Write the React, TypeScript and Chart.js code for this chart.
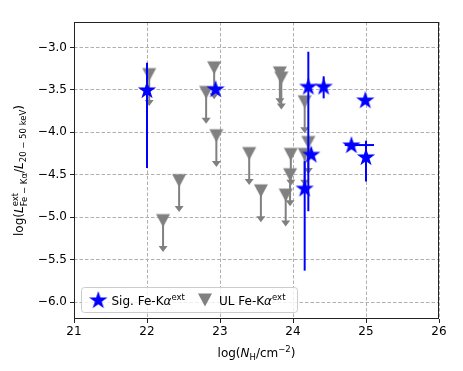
import React, { useEffect, useRef } from 'react';
import { Chart, registerables } from 'chart.js';

Chart.register(...registerables);

// ---- data ----
const sigX = [22.0, 22.94, 24.21, 24.42, 24.99, 24.8, 25.0, 24.25, 24.16];
const sigY = [-3.5, -3.49, -3.46, -3.46, -3.62, -4.15, -4.29, -4.26, -4.66];
const sigYHi = [-3.18, null, -3.05, -3.34, null, null, -4.1, null, -4.34];
const sigYLo = [-4.42, null, -4.93, -3.6, null, null, -4.58, null, -5.63];
const sigXLo = [null, null, null, null, null, 24.71, null, null, null];
const sigXHi = [null, null, null, null, null, 25.11, null, null, null];

const ulX = [22.03, 22.92, 22.81, 22.95, 23.4, 22.44, 22.22, 23.56, 23.97, 23.96, 23.9, 23.82, 23.84, 24.16, 24.21, 24.16];
const ulY = [-3.32, -3.24, -3.53, -4.04, -4.25, -4.57, -5.04, -4.69, -4.26, -4.5, -4.74, -3.3, -3.36, -3.64, -4.12, -4.26];

const xTicks = [21, 22, 23, 24, 25, 26];
const yTicks = [-6.0, -5.5, -5.0, -4.5, -4.0, -3.5, -3.0];

const legendLabels = ['Sig. Fe-K', 'UL Fe-K'];

// ---- styles ----
const BLUE = '#0000ff';
const GRAY = '#808080';
const FONT = '"DejaVu Sans"';
const UL_LEN = 0.37;

function makeStar() {
  const c = document.createElement('canvas');
  c.width = 22; c.height = 22;
  const g = c.getContext('2d')!;
  const cx = 11, cy = 11.5, R = 9.6, r = R * 0.381966;
  g.beginPath();
  for (let i = 0; i < 10; i++) {
    const a = -Math.PI / 2 + (i * Math.PI) / 5;
    const rr = i % 2 === 0 ? R : r;
    const px = cx + rr * Math.cos(a), py = cy + rr * Math.sin(a);
    if (i === 0) g.moveTo(px, py); else g.lineTo(px, py);
  }
  g.closePath();
  g.fillStyle = BLUE;
  g.fill();
  return c;
}

function makeTri() {
  const c = document.createElement('canvas');
  c.width = 16; c.height = 16;
  const g = c.getContext('2d')!;
  g.beginPath();
  g.moveTo(1, 1.5);
  g.lineTo(15, 1.5);
  g.lineTo(8, 14.5);
  g.closePath();
  g.fillStyle = GRAY;
  g.fill();
  return c;
}

type Part = { t: string; size: number; italic?: boolean; dy?: number; stack?: Part };

function fontOf(p: Part) {
  return `${p.italic ? 'italic ' : ''}${p.size}px ${FONT}`;
}

function partWidth(ctx: CanvasRenderingContext2D, p: Part) {
  ctx.font = fontOf(p);
  let w = ctx.measureText(p.t).width;
  if (p.stack) {
    ctx.font = fontOf(p.stack);
    w = Math.max(w, ctx.measureText(p.stack.t).width);
  }
  return w;
}

function drawRich(ctx: CanvasRenderingContext2D, parts: Part[], x: number, y: number, align: 'left' | 'center') {
  let total = 0;
  parts.forEach((p) => (total += partWidth(ctx, p)));
  let cx = align === 'center' ? x - total / 2 : x;
  ctx.textAlign = 'left';
  ctx.textBaseline = 'alphabetic';
  parts.forEach((p) => {
    const w = partWidth(ctx, p);
    ctx.font = fontOf(p);
    ctx.fillText(p.t, cx, y + (p.dy || 0));
    if (p.stack) {
      ctx.font = fontOf(p.stack);
      ctx.fillText(p.stack.t, cx, y + (p.stack.dy || 0));
    }
    cx += w;
  });
}

export default function App() {
  const ref = useRef<HTMLCanvasElement | null>(null);

  useEffect(() => {
    const canvas = ref.current!;
    const star = makeStar();
    const tri = makeTri();

    const plugin = {
      id: 'annot',
      beforeDatasetDraw(chart: any, args: any) {
        const { ctx } = chart;
        const x = chart.scales.x, y = chart.scales.y;
        if (args.index === 1) {
          ctx.save();
          ctx.strokeStyle = GRAY;
          ctx.fillStyle = GRAY;
          ctx.lineWidth = 2;
          ulX.forEach((vx, i) => {
            const px = x.getPixelForValue(vx);
            const py0 = y.getPixelForValue(ulY[i]);
            const tip = y.getPixelForValue(ulY[i] - UL_LEN);
            ctx.beginPath();
            ctx.moveTo(px, py0);
            ctx.lineTo(px, tip - 5);
            ctx.stroke();
            ctx.beginPath();
            ctx.moveTo(px - 4.5, tip - 6);
            ctx.lineTo(px + 4.5, tip - 6);
            ctx.lineTo(px, tip);
            ctx.closePath();
            ctx.fill();
          });
          ctx.restore();
        }
        if (args.index === 0) {
          ctx.save();
          ctx.strokeStyle = BLUE;
          ctx.lineWidth = 2;
          sigX.forEach((vx, i) => {
            const px = x.getPixelForValue(vx);
            if (sigYHi[i] != null && sigYLo[i] != null) {
              ctx.beginPath();
              ctx.moveTo(px, y.getPixelForValue(sigYHi[i] as number));
              ctx.lineTo(px, y.getPixelForValue(sigYLo[i] as number));
              ctx.stroke();
            }
            if (sigXLo[i] != null && sigXHi[i] != null) {
              const py = y.getPixelForValue(sigY[i]);
              ctx.beginPath();
              ctx.moveTo(x.getPixelForValue(sigXLo[i] as number), py);
              ctx.lineTo(x.getPixelForValue(sigXHi[i] as number), py);
              ctx.stroke();
            }
          });
          ctx.restore();
        }
      },
      afterDraw(chart: any) {
        const { ctx, chartArea: a } = chart;
        ctx.save();
        // frame
        ctx.strokeStyle = '#222';
        ctx.lineWidth = 1;
        ctx.strokeRect(Math.round(a.left) + 0.5, Math.round(a.top) + 0.5, Math.round(a.right - a.left) - 1, Math.round(a.bottom - a.top) - 1);

        // legend
        const lx = 81, ly = 287, lw = 216, lh = 25;
        ctx.beginPath();
        if ((ctx as any).roundRect) (ctx as any).roundRect(lx + 0.5, ly + 0.5, lw, lh, 3);
        else ctx.rect(lx + 0.5, ly + 0.5, lw, lh);
        ctx.fillStyle = 'rgba(255,255,255,0.8)';
        ctx.fill();
        ctx.strokeStyle = '#cccccc';
        ctx.stroke();
        const my = ly + lh / 2 + 0.5;
        ctx.drawImage(star, 98.3 - star.width / 2, my - star.height / 2);
        ctx.drawImage(tri, 205 - tri.width / 2, my - tri.height / 2);
        ctx.fillStyle = '#000';
        drawRich(ctx, [
          { t: legendLabels[0], size: 12 },
          { t: 'α', size: 12, italic: true },
          { t: 'ext', size: 8.5, dy: -5 },
        ], 111.5, my + 4.5, 'left');
        drawRich(ctx, [
          { t: legendLabels[1], size: 12 },
          { t: 'α', size: 12, italic: true },
          { t: 'ext', size: 8.5, dy: -5 },
        ], 219, my + 4.5, 'left');

        // x label
        const xc = (a.left + a.right) / 2;
        drawRich(ctx, [
          { t: 'log(', size: 12 },
          { t: 'N', size: 12, italic: true },
          { t: 'H', size: 8.5, dy: 2.5 },
          { t: '/cm', size: 12 },
          { t: '−2', size: 8.5, dy: -5 },
          { t: ')', size: 12 },
        ], xc, 357, 'center');

        // y label
        const yc = (a.top + a.bottom) / 2;
        ctx.translate(23, yc);
        ctx.rotate(-Math.PI / 2);
        drawRich(ctx, [
          { t: 'log(', size: 12 },
          { t: 'L', size: 12, italic: true },
          { t: 'ext', size: 8.5, dy: -5.5, stack: { t: 'Fe − Kα', size: 8.5, dy: 3.5 } },
          { t: '/', size: 12 },
          { t: 'L', size: 12, italic: true },
          { t: '20 − 50 keV', size: 8.5, dy: 3 },
          { t: ')', size: 12 },
        ], 0, 0, 'center');
        ctx.restore();
      },
    };

    const fmtY = (v: number) => (v < 0 ? '\u2212' : '') + Math.abs(v).toFixed(1);

    const chart = new Chart(canvas, {
      type: 'scatter',
      data: {
        datasets: [
          {
            label: 'Sig',
            data: sigX.map((vx, i) => ({ x: vx, y: sigY[i] })),
            pointStyle: star as any,
            pointRadius: 5,
            pointHoverRadius: 5,
          },
          {
            label: 'UL',
            data: ulX.map((vx, i) => ({ x: vx, y: ulY[i] })),
            pointStyle: tri as any,
            pointRadius: 5,
            pointHoverRadius: 5,
          },
        ],
      },
      options: {
        animation: false,
        responsive: false,
        devicePixelRatio: 1,
        layout: { padding: { left: 0, top: 22, right: 24, bottom: 0 } },
        plugins: { legend: { display: false }, tooltip: { enabled: false } },
        events: [],
        scales: {
          x: {
            type: 'linear',
            min: 21,
            max: 26,
            afterBuildTicks: (s: any) => { s.ticks = xTicks.map((v) => ({ value: v })); },
            afterFit: (s: any) => { s.height = 52; },
            ticks: {
              font: { family: FONT, size: 12 },
              color: '#000',
              padding: 2,
              maxRotation: 0,
              autoSkip: false,
              callback: (v: any) => String(v),
            },
            grid: {
              color: '#b0b0b0',
              lineWidth: 1,
              tickColor: '#222',
              tickLength: 4,
              tickWidth: 1,
              tickBorderDash: [],
            },
            border: { display: false, dash: [3.5, 2] },
          },
          y: {
            type: 'linear',
            min: -6.2,
            max: -2.7,
            afterBuildTicks: (s: any) => { s.ticks = yTicks.map((v) => ({ value: v })); },
            afterFit: (s: any) => { s.width = 74; },
            ticks: {
              font: { family: FONT, size: 12 },
              color: '#000',
              padding: 3,
              autoSkip: false,
              callback: (v: any) => fmtY(Number(v)),
            },
            grid: {
              color: '#b0b0b0',
              lineWidth: 1,
              tickColor: '#222',
              tickLength: 4,
              tickWidth: 1,
              tickBorderDash: [],
            },
            border: { display: false, dash: [3.5, 2] },
          },
        },
      },
      plugins: [plugin],
    } as any);

    return () => chart.destroy();
  }, []);

  return (
    <div style={{ position: 'absolute', left: 0, top: 0, width: 463, height: 371, background: '#fff' }}>
      <canvas ref={ref} width={463} height={371} style={{ width: 463, height: 371, display: 'block' }} />
    </div>
  );
}
